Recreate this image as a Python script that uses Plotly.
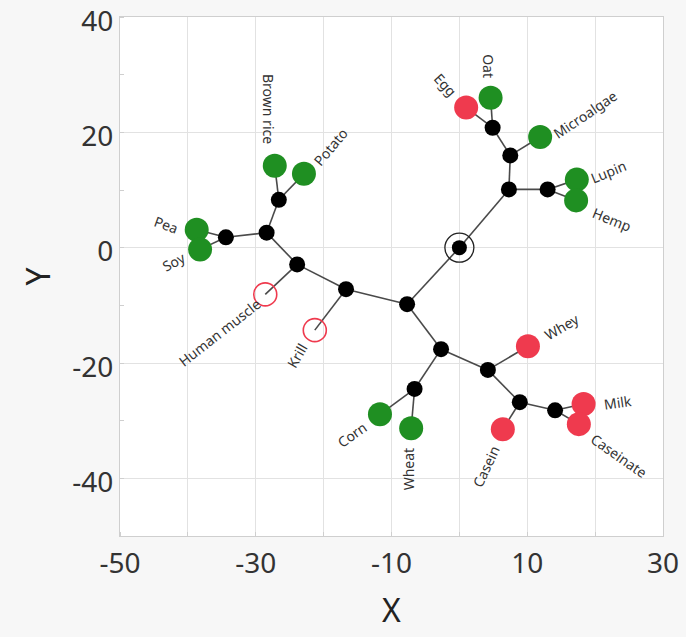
import plotly.graph_objects as go

# ---- data ----
node_names = ["root", "N1", "N2", "N3", "N4", "N5", "N6", "N7", "N8", "N9", "N10",
              "Ntop", "N11", "N12", "N13"]
node_x = [0.0, -7.7, -16.7, -23.9, -28.4, -34.4, -26.6, -6.6, 4.2, 8.9, 14.1,
          7.3, 13.0, 7.5, 4.9]
node_y = [0.0, -9.8, -7.2, -2.9, 2.6, 1.8, 8.3, -24.5, -21.2, -26.8, -28.2,
          10.1, 10.1, 16.0, 20.8]

leaf_names = ["Pea", "Soy", "Brown rice", "Potato", "Human muscle", "Krill",
              "Corn", "Wheat", "Whey", "Casein", "Milk", "Caseinate",
              "Lupin", "Hemp", "Microalgae", "Egg", "Oat"]
leaf_x = [-38.7, -38.2, -27.2, -22.9, -28.6, -21.3,
          -11.7, -7.1, 10.1, 6.4, 18.3, 17.6,
          17.3, 17.2, 11.9, 1.0, 4.6]
leaf_y = [3.1, -0.3, 14.2, 12.8, -8.1, -14.3,
          -28.9, -31.3, -17.1, -31.5, -27.1, -30.6,
          11.8, 8.2, 19.2, 24.3, 26.0]
leaf_group = ["plant", "plant", "plant", "plant", "reference", "reference",
              "plant", "plant", "animal", "animal", "animal", "animal",
              "plant", "plant", "plant", "animal", "plant"]

# extra internal node between N1 and the lower clades
extra_name, extra_x, extra_y = "N7p", -2.7, -17.6

edges = [("root", "N1"), ("root", "Ntop"), ("N1", "N2"), ("N1", "N7p"),
         ("N2", "Krill"), ("N2", "N3"), ("N3", "Human muscle"), ("N3", "N4"),
         ("N4", "N5"), ("N5", "Pea"), ("N5", "Soy"), ("N4", "N6"),
         ("N6", "Brown rice"), ("N6", "Potato"),
         ("N7p", "N7"), ("N7", "Corn"), ("N7", "Wheat"),
         ("N7p", "N8"), ("N8", "Whey"), ("N8", "N9"), ("N9", "Casein"),
         ("N9", "N10"), ("N10", "Milk"), ("N10", "Caseinate"),
         ("Ntop", "N11"), ("N11", "Lupin"), ("N11", "Hemp"),
         ("Ntop", "N12"), ("N12", "Microalgae"), ("N12", "N13"),
         ("N13", "Egg"), ("N13", "Oat")]

x_ticks = [-50, -30, -10, 10, 30]
y_ticks = [-40, -20, 0, 20, 40]

# ---- label styling (pixel offsets / rotation) ----
label_style = {
    "Pea": (-31, 5, 20), "Soy": (-26, -12, -28), "Brown rice": (-7, 57, 90),
    "Potato": (27, 27, -50), "Human muscle": (-46, -38, -38), "Krill": (-18, -25, -60),
    "Corn": (-28, -20, -35), "Wheat": (-3, -41, -90), "Whey": (34, 20, -30),
    "Casein": (-17, -37, -65), "Milk": (34, 1, -8), "Caseinate": (40, -31, 35),
    "Lupin": (32, 8, -22), "Hemp": (36, -19, 22), "Microalgae": (45, 22, -34),
    "Egg": (-21, 23, 48), "Oat": (-2, 32, 90),
}

pos = {n: (x, y) for n, x, y in zip(node_names, node_x, node_y)}
pos.update({n: (x, y) for n, x, y in zip(leaf_names, leaf_x, leaf_y)})
pos[extra_name] = (extra_x, extra_y)

ex, ey = [], []
for a, b in edges:
    ex += [pos[a][0], pos[b][0], None]
    ey += [pos[a][1], pos[b][1], None]

fig = go.Figure()
fig.add_trace(go.Scatter(x=ex, y=ey, mode="lines",
                         line=dict(color="#4a4a4a", width=1.6),
                         hoverinfo="skip", showlegend=False))

# internal nodes
inx = node_x[1:] + [extra_x]
iny = node_y[1:] + [extra_y]
fig.add_trace(go.Scatter(x=inx, y=iny, mode="markers",
                         marker=dict(size=16, color="black"), showlegend=False))
# root
fig.add_trace(go.Scatter(x=[node_x[0]], y=[node_y[0]], mode="markers",
                         marker=dict(size=29, color="rgba(0,0,0,0)",
                                     line=dict(color="#222", width=1.3)),
                         showlegend=False))
fig.add_trace(go.Scatter(x=[node_x[0]], y=[node_y[0]], mode="markers",
                         marker=dict(size=15, color="black"), showlegend=False))

colors = {"plant": "#1f8f22", "animal": "#ef3a4e"}
for grp in ["plant", "animal"]:
    xs = [x for x, g in zip(leaf_x, leaf_group) if g == grp]
    ys = [y for y, g in zip(leaf_y, leaf_group) if g == grp]
    fig.add_trace(go.Scatter(x=xs, y=ys, mode="markers",
                             marker=dict(size=24, color=colors[grp]),
                             showlegend=False))
xs = [x for x, g in zip(leaf_x, leaf_group) if g == "reference"]
ys = [y for y, g in zip(leaf_y, leaf_group) if g == "reference"]
fig.add_trace(go.Scatter(x=xs, y=ys, mode="markers",
                         marker=dict(size=23, color="rgba(255,255,255,0)",
                                     line=dict(color="#ef3a4e", width=1.6)),
                         showlegend=False))

for n, x, y in zip(leaf_names, leaf_x, leaf_y):
    dx, dy, ang = label_style[n]
    fig.add_annotation(x=x, y=y, text=n, showarrow=False, xshift=dx, yshift=dy,
                       textangle=ang, font=dict(size=14, color="#333333",
                                                family="Noto Sans"))

fig.update_layout(
    width=686, height=637,
    margin=dict(l=120, r=23, t=17, b=101),
    paper_bgcolor="#f7f7f7", plot_bgcolor="white",
    font=dict(family="Noto Sans", color="#333333"),
    xaxis=dict(range=[-50, 30], tickvals=x_ticks, ticktext=[str(v) for v in x_ticks],
               tickfont=dict(size=28, color="#333"), showgrid=True, gridcolor="#e2e2e2",
               minor=dict(dtick=10, tick0=0, showgrid=True, gridcolor="#e2e2e2",
                          ticks="inside", ticklen=4, tickcolor="#cfcfcf"),
               ticks="", zeroline=False, showline=True, linecolor="#cfcfcf", mirror=True,
               automargin=False, ticklabelstandoff=2, ticklabeloverflow="allow",
               title=dict(text="X", font=dict(size=32, color="#222"), standoff=20),
               fixedrange=True),
    yaxis=dict(range=[-50, 40], tickvals=y_ticks, ticktext=[str(v) for v in y_ticks],
               tickfont=dict(size=28, color="#333"), showgrid=True, gridcolor="#e2e2e2",
               minor=dict(dtick=10, tick0=0, showgrid=False,
                          ticks="inside", ticklen=4, tickcolor="#cfcfcf"),
               ticks="", zeroline=False, showline=True, linecolor="#cfcfcf", mirror=True,
               automargin=False, ticklabeloverflow="allow", ticklabelshift=4,
               title=dict(text="Y", font=dict(size=32, color="#222"), standoff=12),
               fixedrange=True),
)
fig.write_html("out.html", config={"displayModeBar": False},
               post_script="document.body.style.margin='0';"
                           "document.body.style.background='#f7f7f7';")
